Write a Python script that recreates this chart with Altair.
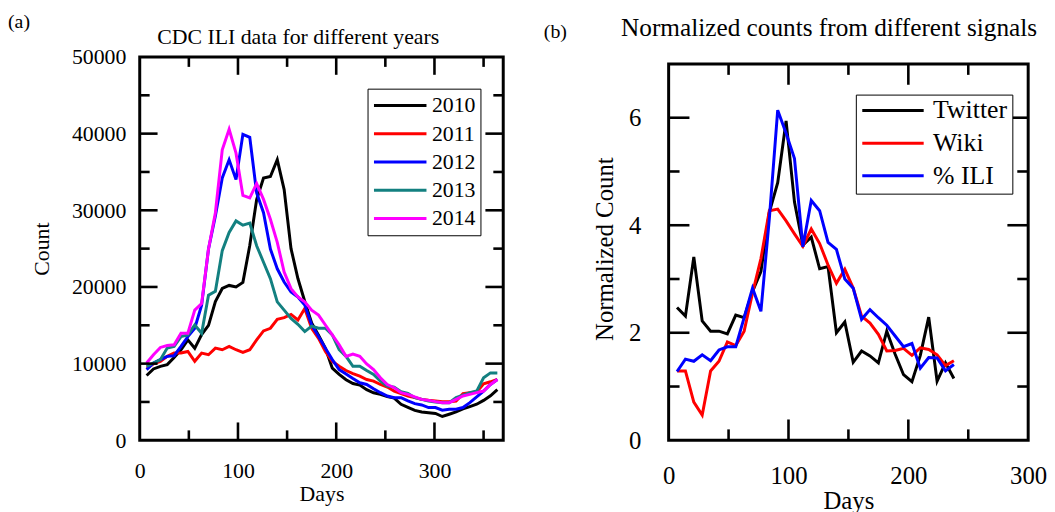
import altair as alt
import pandas as pd

FONT = "Liberation Serif"

# ---------------- panel (a) data ----------------
days_a = [7, 14, 21, 28, 35, 42, 49, 56, 63, 70, 77, 84, 91, 98, 105, 112, 119, 126,
          133, 140, 147, 154, 161, 168, 175, 182, 189, 196, 203, 210, 217, 224, 231,
          238, 245, 252, 259, 266, 273, 280, 287, 294, 301, 308, 315, 322, 329, 336,
          343, 350, 357, 364]
years = ["2010", "2011", "2012", "2013", "2014"]
ili_2010 = [8450, 9300, 9650, 9870, 10800, 11800, 13100, 12000, 13800, 15000,
            18100, 19800, 20200, 20000, 20600, 25400, 31400, 34200, 34400, 36600,
            32700, 25000, 21100, 18100, 15300, 13700, 12000, 9400, 8600, 7900,
            7400, 7200, 6600, 6200, 6000, 5700, 5500, 4700, 4300, 3900,
            3700, 3600, 3500, 3100, 3400, 3700, 4100, 4400, 4700, 5200, 5800, 6600]
ili_2011 = [9440, 9960, 10300, 10950, 11380, 11380, 11590, 10300, 11380, 11160,
            12030, 11810, 12240, 11810, 11460, 11810, 13100, 14270, 14610, 15770,
            15990, 16420, 15690, 17200, 14600, 13300, 11600, 10300, 9660, 9100,
            8710, 8360, 7930, 7710, 7280, 6940, 6420, 6080, 5780, 5560,
            5340, 5210, 5130, 5040, 5040, 5130, 6080, 6210, 6290, 7370, 7630, 7930]
ili_2012 = [9220, 10080, 10520, 10950, 11030, 12240, 13530, 14610, 17630, 24950,
            29260, 34220, 36590, 34000, 39910, 39520, 32280, 29690, 24950, 22370,
            20640, 19350, 18700, 17630, 15040, 13530, 12020, 10520, 9220, 8660,
            8060, 7500, 7280, 6720, 6210, 5780, 5560, 5560, 5130, 4780,
            4610, 4270, 4270, 3920, 4050, 4050, 4270, 4910, 5650, 6420, 7280, 7930]
ili_2013 = [9650, 10080, 10520, 12030, 12240, 13530, 13750, 15040, 13960, 18920,
            19440, 24740, 27110, 28620, 28060, 28320, 25380, 23230, 21080, 18060,
            16980, 15900, 15130, 14180, 14900, 14610, 14610, 13750, 11810, 10950,
            9660, 9660, 9100, 8580, 7710, 7070, 6940, 6340, 6120, 5560,
            5340, 5130, 4990, 4910, 4910, 5560, 5900, 6210, 6420, 8150, 8790, 8790]
ili_2014 = [10080, 11160, 12110, 12370, 12460, 13960, 13960, 16980, 17840, 24950,
            29690, 37880, 40560, 37450, 31940, 31630, 33490, 31420, 28830, 25820,
            21940, 19780, 18700, 18060, 16980, 16330, 15040, 13750, 12460, 10950,
            11250, 10950, 9960, 9220, 8150, 7280, 6850, 6210, 5990, 5650,
            5340, 5210, 5040, 4910, 4910, 5340, 5780, 5990, 6210, 6420, 7280, 7930]
colors_a = ["#000000", "#ff0000", "#0000ff", "#138080", "#ff00ff"]

x_labels_a = [0, 100, 200, 300]
x_major_a = [100, 200, 300]
x_minor_a = [50, 150, 250, 350]
y_labels_a = [0, 10000, 20000, 30000, 40000, 50000]
y_major_a = [10000, 20000, 30000, 40000]
y_minor_a = [5000, 15000, 25000, 35000, 45000]

# ---------------- panel (b) data ----------------
days_b = [7, 14, 21, 28, 35, 42, 49, 56, 63, 70, 77, 84, 91, 98, 105, 112, 119,
          126, 133, 140, 147, 154, 161, 168, 175, 182, 189, 196, 203, 210, 217,
          224, 231, 238]
signals = ["Twitter", "Wiki", "% ILI"]
twitter = [2.47, 2.31, 3.41, 2.22, 2.03, 2.03, 1.98, 2.33, 2.28, 2.77,
           3.14, 4.24, 4.79, 5.94, 4.43, 3.63, 3.78, 3.19, 3.23, 2.00,
           2.20, 1.45, 1.66, 1.57, 1.44, 2.03, 1.60, 1.22, 1.09, 1.58,
           2.29, 1.10, 1.44, 1.15]
wiki = [1.29, 1.29, 0.71, 0.47, 1.29, 1.47, 1.83, 1.76, 2.03, 2.74,
        3.38, 4.27, 4.30, 4.08, 3.84, 3.61, 3.93, 3.66, 3.26, 2.92,
        3.18, 2.83, 2.31, 2.18, 1.97, 1.66, 1.67, 1.71, 1.58, 1.72,
        1.69, 1.59, 1.39, 1.48]
pct_ili = [1.28, 1.51, 1.47, 1.59, 1.48, 1.68, 1.74, 1.74, 2.28, 2.83,
           2.40, 4.12, 6.14, 5.71, 5.24, 3.60, 4.46, 4.27, 3.68, 3.55,
           3.00, 2.83, 2.25, 2.43, 2.28, 2.14, 1.94, 1.74, 1.80, 1.34,
           1.54, 1.53, 1.29, 1.41]
colors_b = ["#000000", "#ff0000", "#0000ff"]

x_labels_b = [0, 100, 200, 300]
x_major_b = [100, 200]
x_minor_b = [50, 150, 250]
y_labels_b = [0, 2, 4, 6]
y_major_b = [2, 4, 6]
y_minor_b = [1, 3, 5]

H = 387  # shared plot height (both panels share the same top origin)


def build_table(names, series_vals, days):
    out = []
    for name, vals in zip(names, series_vals):
        for d, v in zip(days, vals):
            out.append({"series": name, "day": d, "value": v})
    return pd.DataFrame(out)


df_a = build_table(years, [ili_2010, ili_2011, ili_2012, ili_2013, ili_2014], days_a)
df_b = build_table(signals, [twitter, wiki, pct_ili], days_b)

ONE = pd.DataFrame({"k": [0]})


def text_layer(txt, x, y, size, align="left", baseline="middle"):
    return alt.Chart(pd.DataFrame({"t": [txt]})).mark_text(
        font=FONT, fontSize=size, align=align, baseline=baseline, color="black"
    ).encode(text="t:N", x=alt.value(x), y=alt.value(y))


def tick_layers(W, xdom, ydom, top_px, xmaj, xmin, ymaj, ymin, lmaj, lmin, tw=1.3):
    # inward tick marks on all four sides of the frame, drawn as thin filled rects
    def sx(v):
        return (v - xdom[0]) / (xdom[1] - xdom[0]) * W

    def sy(v):
        return H - (v - ydom[0]) / (ydom[1] - ydom[0]) * H

    out = []
    for vals, L in [(xmaj, lmaj), (xmin, lmin)]:
        for v in vals:
            for y1, y2 in [(H - L, H), (top_px, top_px + L)]:
                out.append(alt.Chart(ONE).mark_rect(color="black", strokeWidth=0).encode(
                    x=alt.value(sx(v) - tw), x2=alt.value(sx(v) + tw),
                    y=alt.value(y1), y2=alt.value(y2)))
    for vals, L in [(ymaj, lmaj), (ymin, lmin)]:
        for v in vals:
            for x1, x2 in [(0, L), (W - L, W)]:
                out.append(alt.Chart(ONE).mark_rect(color="black", strokeWidth=0).encode(
                    y=alt.value(sy(v) - tw), y2=alt.value(sy(v) + tw),
                    x=alt.value(x1), x2=alt.value(x2)))
    return out


def panel(df, domain, colors, W, xdom, ydom, yframe, xlab, xmaj, xmin,
          ylab, ymaj, ymin, lmaj, lmin, fs, xlabpad, xtitlepad, ylabpad,
          ytitlepad, ytitle, legend, texts):
    xs = alt.Scale(domain=xdom, nice=False, zero=False)
    ys = alt.Scale(domain=ydom, nice=False, zero=False)
    top_px = H * (1 - yframe / ydom[1])
    x_axis = alt.Axis(
        orient="bottom", values=xlab, ticks=False, tickSize=0, domain=False,
        grid=False, labelFont=FONT, labelFontSize=fs, labelColor="black",
        labelPadding=xlabpad, labelFlush=False, title="Days", titleFont=FONT,
        titleFontSize=fs, titleFontWeight="normal", titleColor="black",
        titlePadding=xtitlepad)
    y_axis = alt.Axis(
        orient="left", values=ylab, ticks=False, tickSize=0, domain=False,
        grid=False, labelFont=FONT, labelFontSize=fs, labelColor="black",
        labelPadding=ylabpad, labelFlush=False, format="d", title=ytitle,
        titleFont=FONT, titleFontSize=fs, titleFontWeight="normal",
        titleColor="black", titlePadding=ytitlepad)
    lines = alt.Chart(df).mark_line(strokeWidth=3, clip=True).encode(
        x=alt.X("day:Q", scale=xs, axis=x_axis),
        y=alt.Y("value:Q", scale=ys, axis=y_axis),
        color=alt.Color("series:N", scale=alt.Scale(domain=domain, range=colors),
                        legend=legend),
    )
    frame = alt.Chart(ONE).mark_rect(
        fillOpacity=0, stroke="black", strokeWidth=3
    ).encode(x=alt.value(0), x2=alt.value(W), y=alt.value(top_px), y2=alt.value(H))
    layers = [lines, frame]
    layers += tick_layers(W, xdom, ydom, top_px, xmaj, xmin, ymaj, ymin, lmaj, lmin)
    for t in texts:
        layers.append(text_layer(*t))
    return alt.layer(*layers).properties(width=W, height=H)


legend_a = alt.Legend(
    orient="none", legendX=230, legendY=32, title=None,
    symbolType="stroke", symbolSize=2809, symbolStrokeWidth=3, clipHeight=24,
    rowPadding=4.5, padding=5, labelOffset=4, labelFont=FONT, labelFontSize=22,
    labelColor="black", strokeColor="black", fillColor="white",
)
legend_b = alt.Legend(
    orient="none", legendX=189, legendY=38, title=None,
    symbolType="stroke", symbolSize=3844, symbolStrokeWidth=3, clipHeight=22,
    rowPadding=7, padding=5, labelOffset=8, labelFont=FONT, labelFontSize=26,
    labelColor="black", strokeColor="black", fillColor="white",
)

left = panel(df_a, years, colors_a, 367, [0, 370], [0, 50000], 50000,
             x_labels_a, x_major_a, x_minor_a, y_labels_a, y_major_a, y_minor_a,
             18, 10, 22, 21, 2, 14, 18, "Count", legend_a,
             [("(a)", -133, -35, 20),
              ("CDC ILI data for different years", 160, -13, 22, "center", "alphabetic")])

right = panel(df_b, signals, colors_b, 363, [0, 300], [0, 7.13], 7,
              x_labels_b, x_major_b, x_minor_b, y_labels_b, y_major_b, y_minor_b,
              21, 11, 25, 24, 0, 28, 11, "Normalized Count", legend_b,
              [("(b)", -126, -25, 20),
               ("Normalized counts from different signals", 162, -21, 25.5,
                "center", "alphabetic")])

chart = alt.hconcat(left, right, spacing=39).resolve_scale(
    color="independent"
).configure_view(
    strokeWidth=0
).properties(
    padding={"left": 0, "top": 2, "right": 0, "bottom": 0}
)

chart.save("out.html", embed_options={"renderer": "svg", "actions": False})
